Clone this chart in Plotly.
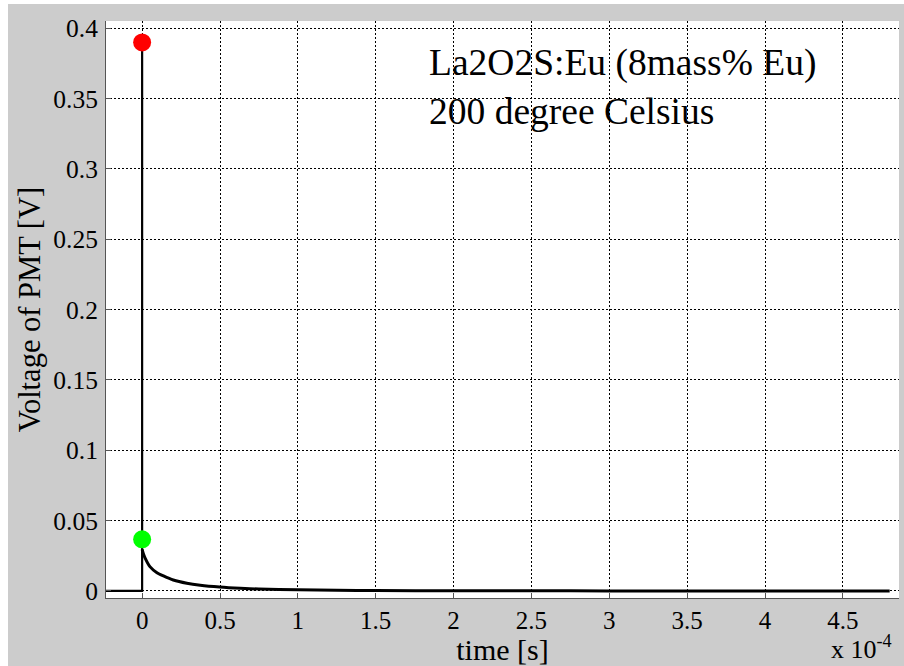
import plotly.graph_objects as go

# ---- data (time in seconds, voltage in volts) ----
base_time = [-0.232e-4, 0.0, 0.0]
base_volt = [0.0, 0.0, 0.39]

decay_time = [0.0, 0.008e-4, 0.02e-4, 0.05e-4, 0.095e-4, 0.137e-4, 0.20e-4, 0.287e-4,
              0.373e-4, 0.497e-4, 0.63e-4, 0.75e-4, 1.0e-4, 1.25e-4, 1.5e-4,
              2.0e-4, 2.5e-4, 3.0e-4, 3.5e-4, 4.0e-4, 4.8e-4]
decay_volt = [0.0296, 0.0265, 0.0232, 0.0173, 0.0130, 0.0107, 0.0078, 0.0055,
              0.0041, 0.0028, 0.0019, 0.0014, 0.0008, 0.0005, 0.0003,
              0.00015, 0.0001, 0.00005, 0.00003, 0.00002, 0.0]

peak_time, peak_volt = [0.0], [0.39]
start_time, start_volt = [0.0], [0.0367]

xtick_vals = [0, 0.5e-4, 1e-4, 1.5e-4, 2e-4, 2.5e-4, 3e-4, 3.5e-4, 4e-4, 4.5e-4]
xtick_text = ["0", "0.5", "1", "1.5", "2", "2.5", "3", "3.5", "4", "4.5"]
ytick_vals = [0, 0.05, 0.1, 0.15, 0.2, 0.25, 0.3, 0.35, 0.4]
ytick_text = ["0", "0.05", "0.1", "0.15", "0.2", "0.25", "0.3", "0.35", "0.4"]

FONT = "Liberation Serif"

fig = go.Figure()
fig.add_trace(go.Scatter(x=base_time, y=base_volt, mode="lines",
                         line=dict(color="black", width=2.2), showlegend=False))
fig.add_trace(go.Scatter(x=decay_time, y=decay_volt, mode="lines",
                         line=dict(color="black", width=3, shape="spline", smoothing=0.6),
                         showlegend=False))
fig.add_trace(go.Scatter(x=peak_time, y=peak_volt, mode="markers",
                         marker=dict(color="#ff0000", size=18), showlegend=False))
fig.add_trace(go.Scatter(x=start_time, y=start_volt, mode="markers",
                         marker=dict(color="#00ff00", size=18), showlegend=False))

W, H = 904, 666
L, R, T, B = 106, 899, 21, 598
pw, ph = R - L, B - T

def px(x):
    return (x - L) / pw

def py(y):
    return (B - y) / ph

fig.update_layout(
    width=W, height=H,
    margin=dict(l=L, r=W - R, t=T, b=H - B, pad=0),
    paper_bgcolor="#cccccc", plot_bgcolor="white",
    font=dict(family=FONT, color="black", size=25),
    xaxis=dict(range=[-0.232e-4, 4.86e-4], tickvals=xtick_vals, ticktext=xtick_text,
               showgrid=True, gridcolor="black", griddash="2px,2px", gridwidth=1,
               zeroline=False, showline=True, linecolor="#555555", linewidth=1,
               ticks="inside", ticklen=5, tickcolor="#555555",
               tickfont=dict(size=25, family=FONT, color="black"), ticklabelstandoff=0,
               title=dict(text="time [s]", font=dict(size=30, family=FONT, color="black"), standoff=4)),
    yaxis=dict(range=[-0.005, 0.4052], tickvals=ytick_vals, ticktext=ytick_text,
               showgrid=True, gridcolor="black", griddash="2px,2px", gridwidth=1,
               zeroline=False, showline=True, linecolor="#555555", linewidth=1,
               ticks="inside", ticklen=5, tickcolor="#555555",
               tickfont=dict(size=25.5, family=FONT, color="black"), ticklabelstandoff=2,
               title=dict(text="Voltage of PMT [V]", font=dict(size=30.5, family=FONT, color="black"), standoff=3)),
    shapes=[
        dict(type="rect", xref="paper", yref="paper", x0=px(-5), x1=px(8), y0=py(H + 5), y1=py(-5),
             fillcolor="white", line=dict(width=0), layer="above"),
        dict(type="rect", xref="paper", yref="paper", x0=px(-5), x1=px(W + 5), y0=py(4), y1=py(-5),
             fillcolor="white", line=dict(width=0), layer="above"),
    ],
    annotations=[
        dict(xref="paper", yref="paper", x=px(427), y=py(40), xanchor="left", yanchor="top",
             align="left", showarrow=False,
             text="La2O2S:Eu (8mass% Eu)<br>200 degree Celsius",
             font=dict(size=37.5, family=FONT, color="black")),
        dict(xref="paper", yref="paper", x=px(829), y=py(666), xanchor="left", yanchor="bottom",
             showarrow=False, text="x 10<sup>-4</sup>", font=dict(size=26, family=FONT, color="black")),
    ],
)

fig.write_html("out.html")
